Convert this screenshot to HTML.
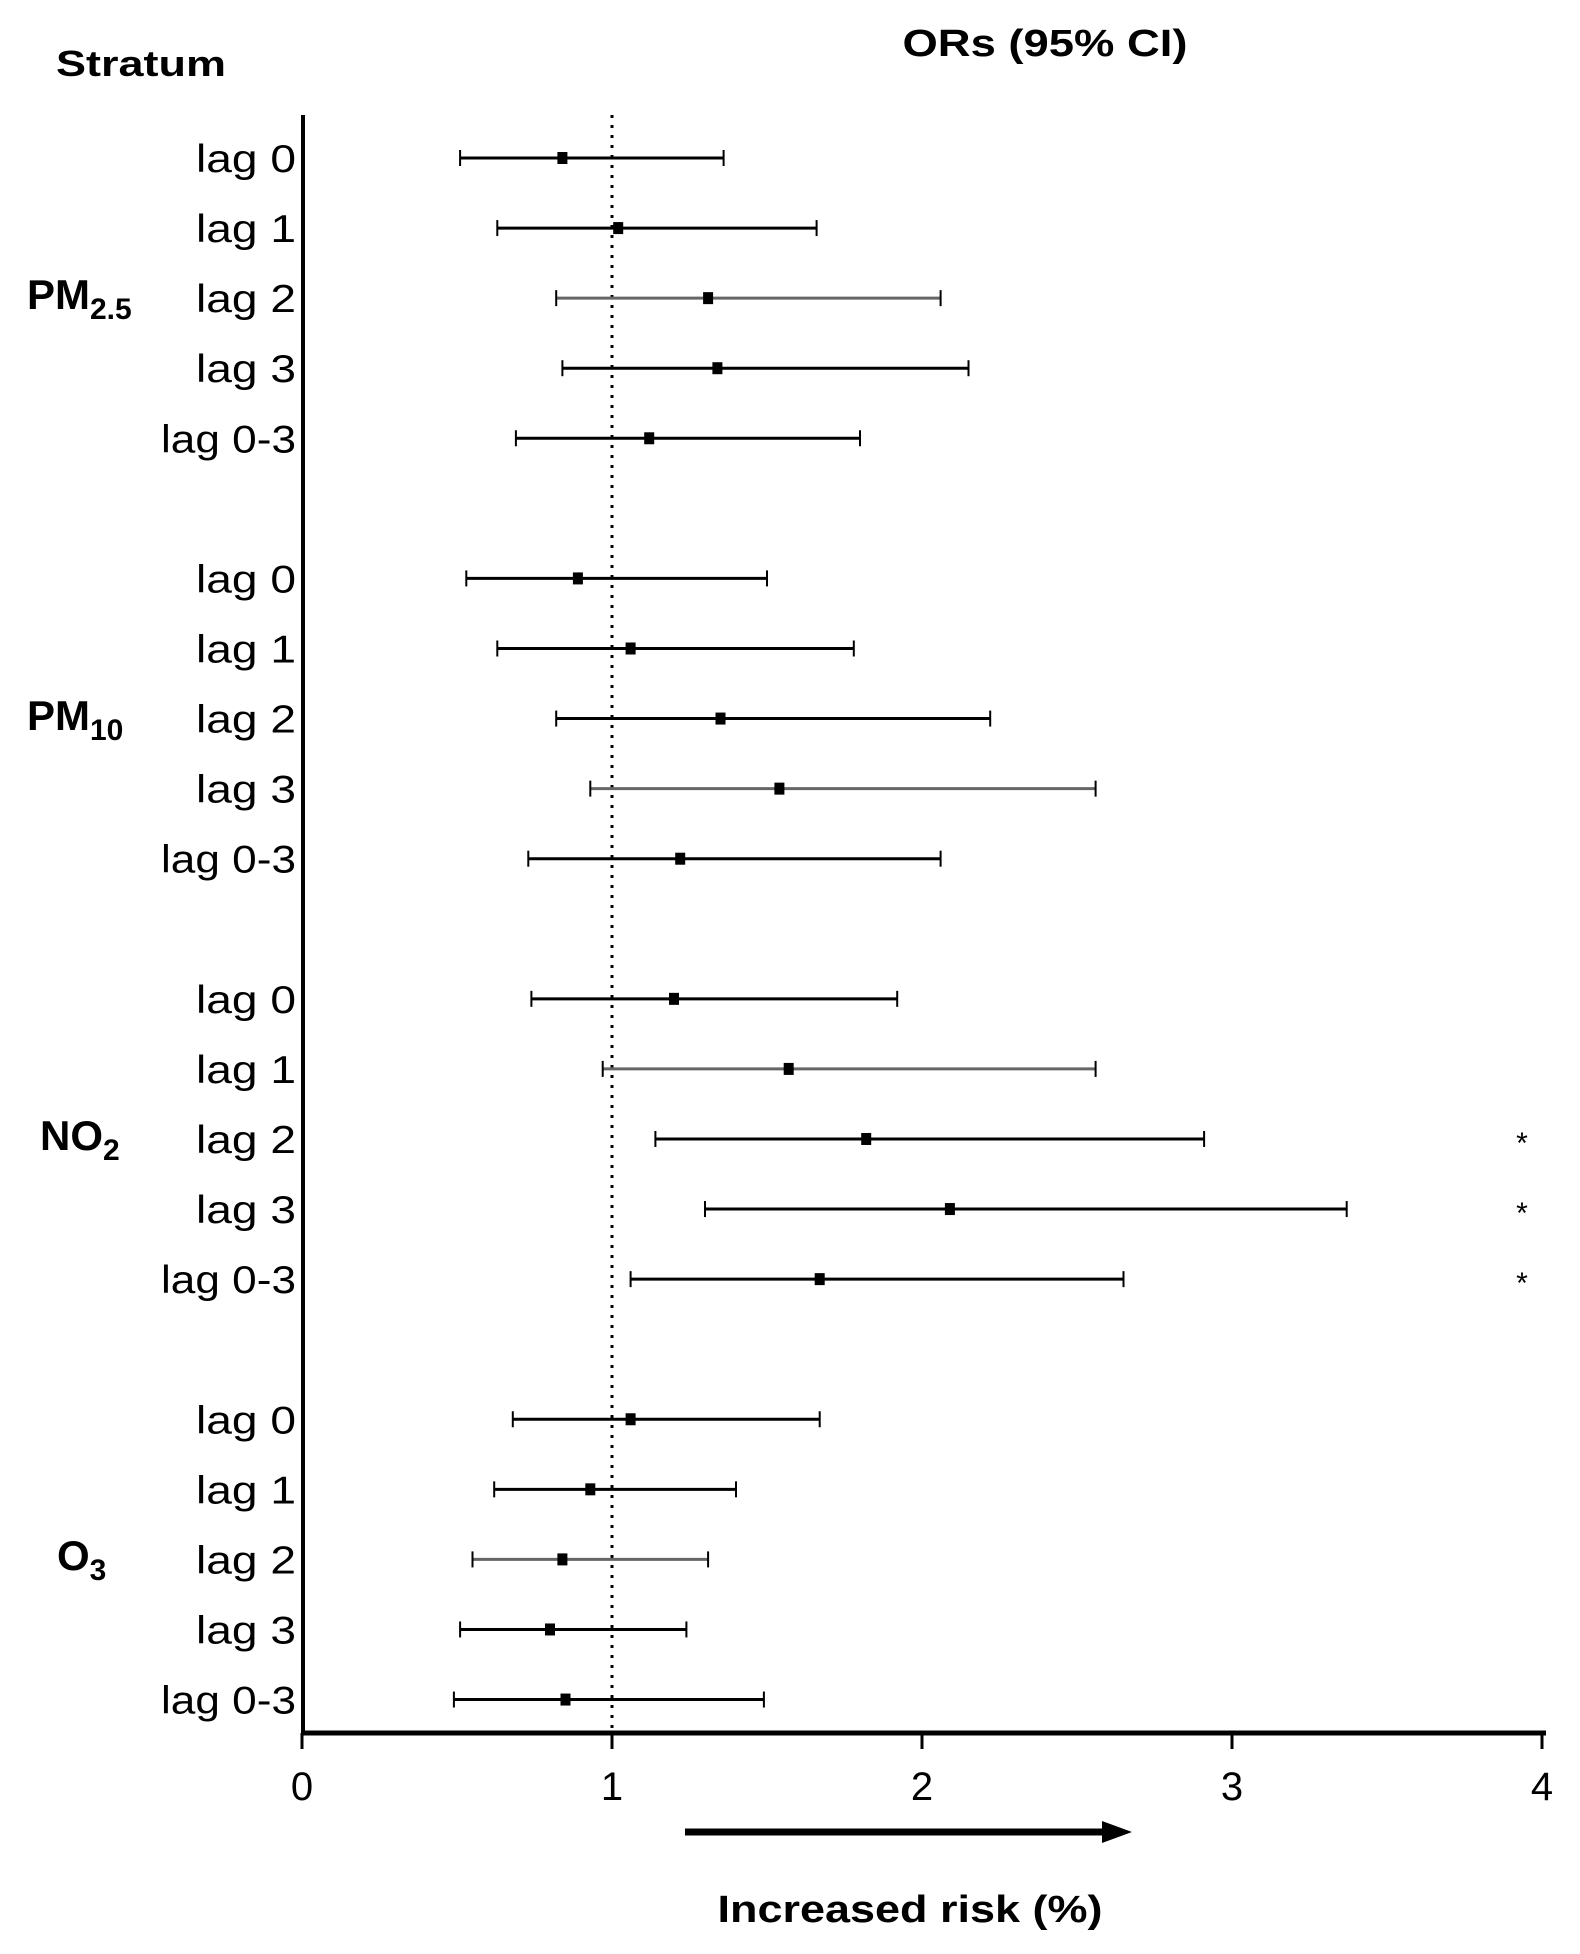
<!DOCTYPE html>
<html><head><meta charset="utf-8"><style>
html,body{margin:0;padding:0;background:#fff;}
svg{display:block;font-family:"Liberation Sans",sans-serif;}
</style></head><body>
<svg id="s" width="1580" height="1954" viewBox="0 0 1580 1954" xmlns="http://www.w3.org/2000/svg">
<text x="1045" y="56" font-size="38" font-weight="bold" text-anchor="middle" textLength="285" lengthAdjust="spacingAndGlyphs">ORs (95% CI)</text>
<text x="56" y="76" font-size="36" font-weight="bold" textLength="170" lengthAdjust="spacingAndGlyphs">Stratum</text>
<line x1="303" y1="115" x2="303" y2="1734" stroke="#000" stroke-width="4"/>
<line x1="301" y1="1733" x2="1546" y2="1733" stroke="#000" stroke-width="5"/>
<line x1="612" y1="115" x2="612" y2="1733" stroke="#000" stroke-width="3" stroke-dasharray="3,7"/>
<g id="ticks"></g>
<g id="rows"></g>
<line x1="685" y1="1832" x2="1105" y2="1832" stroke="#000" stroke-width="7"/>
<polygon points="1102,1821 1132,1832 1102,1843" fill="#000"/>
<text x="910" y="1922" font-size="38" font-weight="bold" text-anchor="middle" textLength="385" lengthAdjust="spacingAndGlyphs">Increased risk (%)</text>
<text x="27" y="309" font-size="42" font-weight="bold">PM<tspan font-size="30" dy="10">2.5</tspan></text>
<text x="27" y="730" font-size="42" font-weight="bold">PM<tspan font-size="30" dy="10">10</tspan></text>
<text x="40" y="1150" font-size="42" font-weight="bold">NO<tspan font-size="30" dy="10">2</tspan></text>
<text x="57" y="1570" font-size="42" font-weight="bold">O<tspan font-size="30" dy="10">3</tspan></text>
</svg>
<script>
var x0=302,u=310,ns="http://www.w3.org/2000/svg";
function el(t,a,p,txt){var e=document.createElementNS(ns,t);for(var k in a)e.setAttribute(k,a[k]);if(txt!==undefined)e.textContent=txt;document.getElementById(p).appendChild(e);return e;}
for(var i=0;i<=4;i++){var x=x0+i*u;el("line",{x1:x,y1:1733,x2:x,y2:1749,stroke:"#000","stroke-width":3},"ticks");
el("text",{x:x,y:1800,"font-size":40,"text-anchor":"middle"},"ticks",""+i);}
var d=[
[[.51,.84,1.36],[.63,1.02,1.66],[.82,1.31,2.06,1],[.84,1.34,2.15],[.69,1.12,1.80]],
[[.53,.89,1.50],[.63,1.06,1.78],[.82,1.35,2.22],[.93,1.54,2.56,1],[.73,1.22,2.06]],
[[.74,1.20,1.92],[.97,1.57,2.56,1],[1.14,1.82,2.91,0,1],[1.30,2.09,3.37,0,1],[1.06,1.67,2.65,0,1]],
[[.68,1.06,1.67],[.62,.93,1.40],[.55,.84,1.31,1],[.51,.80,1.24],[.49,.85,1.49]]];
var labs=["lag 0","lag 1","lag 2","lag 3","lag 0-3"];
for(var g=0;g<4;g++)for(var r=0;r<5;r++){
var y=158+(g*6+r)*70.07,v=d[g][r],c=v[3]?"#666":"#000";
var a=x0+v[0]*u,m=x0+v[1]*u,b=x0+v[2]*u;
el("line",{x1:a,y1:y,x2:b,y2:y,stroke:c,"stroke-width":3},"rows");
el("line",{x1:a,y1:y-8,x2:a,y2:y+8,stroke:"#000","stroke-width":2},"rows");
el("line",{x1:b,y1:y-8,x2:b,y2:y+8,stroke:"#000","stroke-width":2},"rows");
el("rect",{x:m-5,y:y-6,width:10,height:12,fill:"#000"},"rows");
el("text",{x:296,y:y+14,"font-size":39,"text-anchor":"end",textLength:(r==4?135:100),lengthAdjust:"spacingAndGlyphs"},"rows",labs[r]);
if(v[4])el("text",{x:1522,y:y+14,"font-size":30,"text-anchor":"middle"},"rows","*");
}
</script>
</body></html>
